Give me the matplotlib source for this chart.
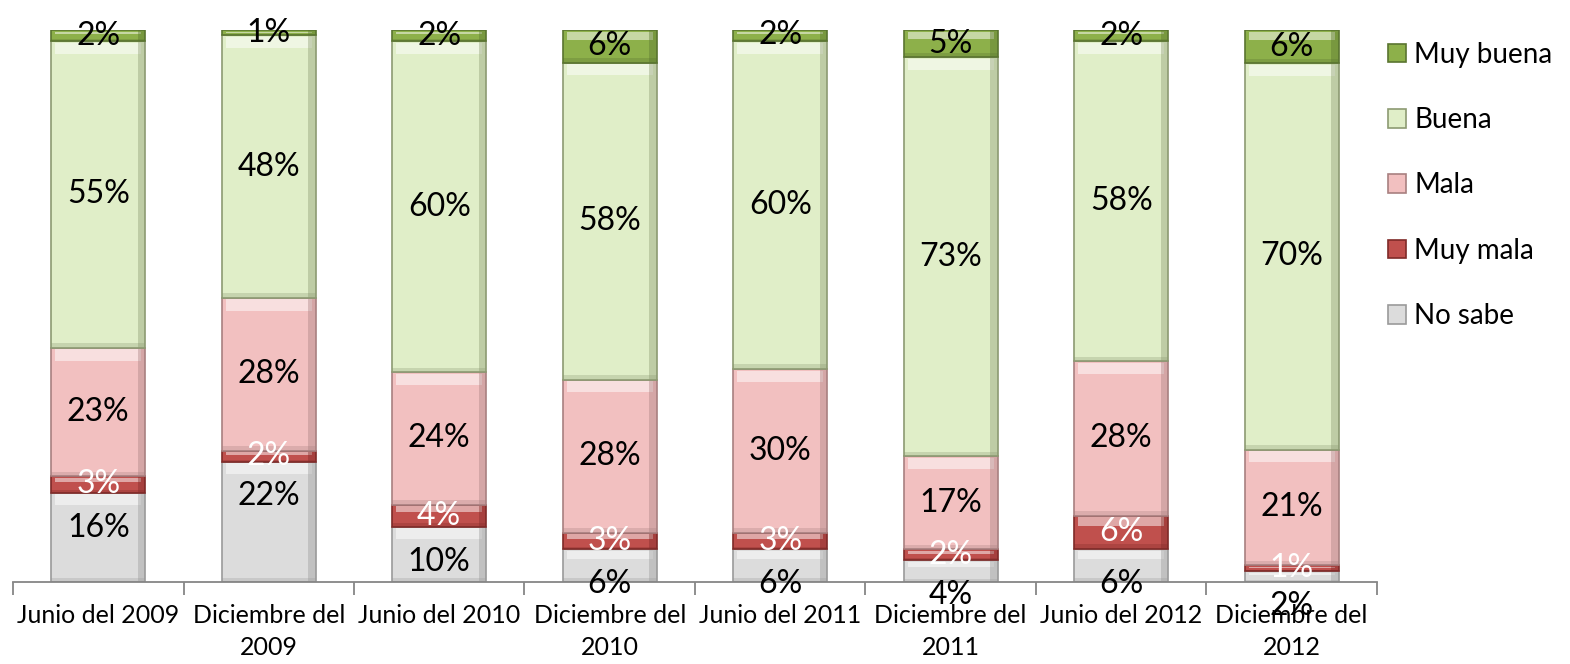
import numpy as np
import matplotlib.pyplot as plt

plt.rcParams['font.family'] = ['Lato', 'DejaVu Sans']

categorias = ['Junio del 2009', 'Diciembre del\n2009', 'Junio del 2010', 'Diciembre del\n2010',
              'Junio del 2011', 'Diciembre del\n2011', 'Junio del 2012', 'Diciembre del\n2012']

no_sabe = [16, 22, 10, 6, 6, 4, 6, 2]
muy_mala = [3, 2, 4, 3, 3, 2, 6, 1]
mala = [23, 28, 24, 28, 30, 17, 28, 21]
buena = [55, 48, 60, 58, 60, 73, 58, 70]
muy_buena = [2, 1, 2, 6, 2, 5, 2, 6]

series = [('No sabe', no_sabe, '#dcdcdc', '#9a9a9a', 'black'),
          ('Muy mala', muy_mala, '#c0504d', '#7f2a28', 'white'),
          ('Mala', mala, '#f2c0c0', '#a88080', 'black'),
          ('Buena', buena, '#e0eec8', '#8c9a72', 'black'),
          ('Muy buena', muy_buena, '#8db04a', '#5a7430', 'black')]

N = len(categorias)
ind = np.arange(N)
width = 0.55

# stacked to 100%
totales = np.sum([s[1] for s in series], axis=0)

fig = plt.figure(figsize=(15.7, 6.64), dpi=100)
ax = fig.add_axes([0.0083, 0.1235, 0.8687, 0.8313])

bottom = np.zeros(N)
handles = []
for nombre, vals, color, borde, tcolor in series:
    h = np.array(vals) / totales * 100
    bars = ax.bar(ind, h, width, bottom=bottom, color=color, edgecolor=borde, linewidth=1.2, label=nombre)
    # bevel-like highlight at top of each segment
    hl = np.minimum(h * 0.25, 2.0)
    ax.bar(ind, hl, width * 0.92, bottom=bottom + h - hl - 0.3, color='white', alpha=0.5, linewidth=0)
    # darker right edge and bottom
    ax.bar(ind + width * 0.46, h, width * 0.08, bottom=bottom, color=borde, alpha=0.4, linewidth=0)
    ax.bar(ind, np.minimum(h * 0.15, 0.8), width, bottom=bottom, color=borde, alpha=0.3, linewidth=0)
    handles.append(bars)
    for i in range(N):
        txt = '%d%%' % vals[i]
        if nombre == 'No sabe':
            ax.annotate(txt, (ind[i], bottom[i] + h[i]), xytext=(0, -25), textcoords='offset points',
                        ha='center', va='center', fontsize=23, color=tcolor, annotation_clip=False)
        else:
            ax.text(ind[i], bottom[i] + h[i] / 2, txt, ha='center', va='center', fontsize=23, color=tcolor)
    bottom += h

ax.set_xlim(-0.5, N - 0.5)
ax.set_ylim(0, 100)
ax.set_yticks([])
for s in ['left', 'right', 'top']:
    ax.spines[s].set_visible(False)
ax.spines['bottom'].set_color('#868686')
ax.spines['bottom'].set_linewidth(1.3)

ax.set_xticks(ind)
ax.set_xticklabels(categorias, fontsize=18, linespacing=1.45)
ax.tick_params(axis='x', which='major', length=0, pad=16)
ax.set_xticks(np.arange(-0.5, N, 1), minor=True)
ax.tick_params(axis='x', which='minor', length=9, width=1.3, color='#868686')

leg = fig.legend(handles[::-1], [s[0] for s in series][::-1], loc='upper left',
                 bbox_to_anchor=(0.868, 0.975), frameon=False, fontsize=20,
                 handlelength=0.65, handleheight=0.65, handletextpad=0.3, labelspacing=1.42)

fig.savefig('out.png', dpi=100)
